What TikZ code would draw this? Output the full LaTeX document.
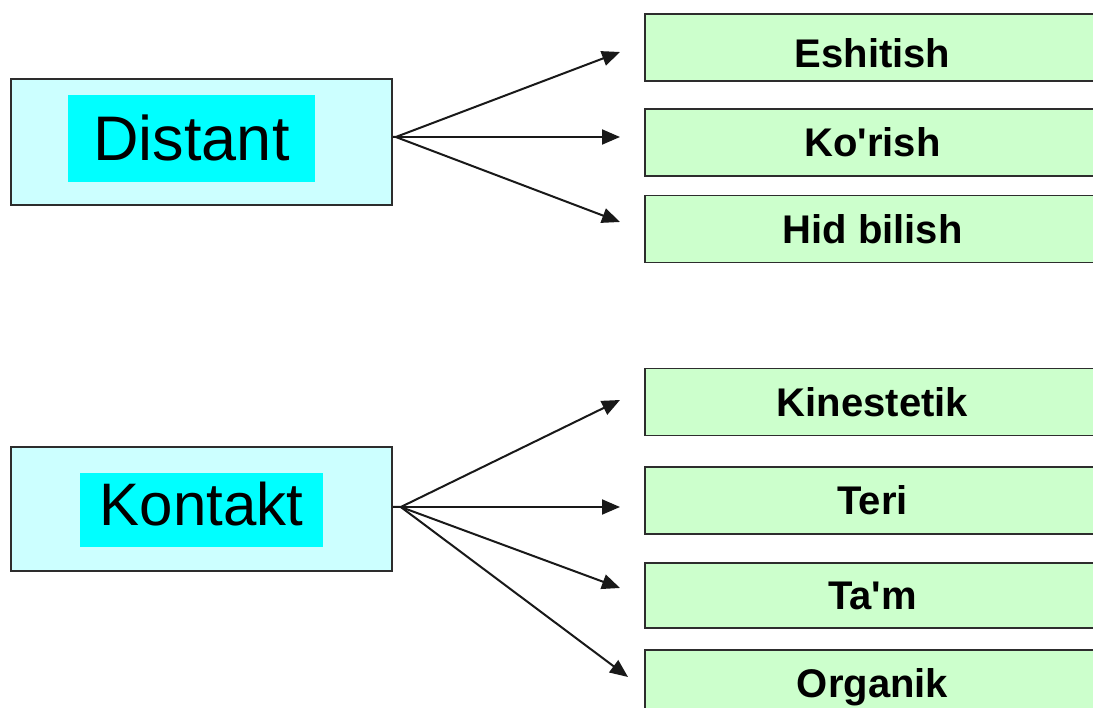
\documentclass[tikz,border=0pt]{standalone}
\usepackage{fontspec}
\setmainfont{Liberation Sans}[Ligatures=TeXOff]
\usetikzlibrary{arrows.meta}

\definecolor{groupfill}{RGB}{204,255,255}
\definecolor{namefill}{RGB}{0,255,255}
\definecolor{leaffill}{RGB}{204,255,204}
\definecolor{edgegray}{RGB}{45,45,45}

\tikzset{
  groupbox/.style={draw=edgegray, line width=1.6pt, fill=groupfill, inner sep=0pt, minimum width=381pt},
  namebox/.style={fill=namefill, inner sep=0pt, text height=45pt, text depth=0pt},
  leafbox/.style={draw=edgegray, line width=1.6pt, fill=leaffill, inner sep=0pt,
    minimum width=455pt, minimum height=67pt, text height=28.6pt, text depth=0pt,
    font=\bfseries\fontsize{40}{40}\selectfont},
  arr/.style={-{Triangle[length=18pt,width=15pt]}, line width=2pt, draw=black!90},
}

\begin{document}
\begin{tikzpicture}[x=1pt,y=-1pt]
\useasboundingbox (0,0) rectangle (1093,708);

% left group boxes
\node [groupbox, minimum height=126pt] (Distant) at (201.5,142) {};
\node [namebox, minimum width=247pt, minimum height=87pt, font=\fontsize{63}{63}\selectfont] (DistantName) at (191.5,138.5) {Distant};

\node [groupbox, minimum height=124pt] (Kontakt) at (201.5,509) {};
\node [namebox, minimum width=243pt, minimum height=74pt, text depth=14pt, font=\fontsize{60}{60}\selectfont] (KontaktName) at (201.5,510) {Kontakt};

% right leaf boxes
\node [leafbox, text height=40.6pt] (Eshitish) at (872.5,47.5) {Eshitish};
\node [leafbox] (Korish) at (872.5,142.5) {Ko'rish};
\node [leafbox] (Hidbilish) at (872.5,229) {Hid bilish};

\node [leafbox] (Kinestetik) at (872.5,402) {Kinestetik};
\node [leafbox] (Teri) at (872.5,500.5) {Teri};
\node [leafbox, minimum height=65pt] (Tam) at (872.5,595.5) {Ta'm};
\node [leafbox] (Organik) at (872.5,683.5) {Organik};

% arrows
\coordinate (dsrc) at ([shift={(3,-5)}]Distant.east);
\coordinate (ksrc) at ([shift={(8,-2)}]Kontakt.east);

\coordinate (tEshitish) at (620,52);
\coordinate (tKorish) at (620,137);
\coordinate (tHidbilish) at (620,222);
\coordinate (tKinestetik) at (620,400);
\coordinate (tTeri) at (620,507);
\coordinate (tTam) at (620,588);
\coordinate (tOrganik) at (628,677);

\draw [arr] (Distant.east |- dsrc) -- (dsrc) -- (tEshitish);
\draw [arr] (dsrc) -- (tKorish);
\draw [arr] (dsrc) -- (tHidbilish);

\draw [arr] (Kontakt.east |- ksrc) -- (ksrc) -- (tKinestetik);
\draw [arr] (ksrc) -- (tTeri);
\draw [arr] (ksrc) -- (tTam);
\draw [arr] (ksrc) -- (tOrganik);

\end{tikzpicture}
\end{document}
